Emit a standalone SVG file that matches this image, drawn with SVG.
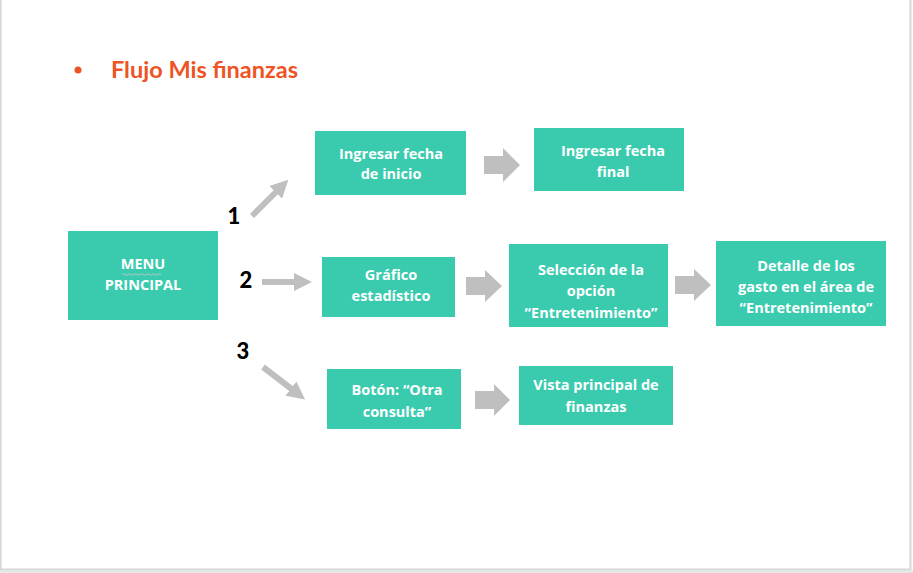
<svg xmlns="http://www.w3.org/2000/svg" width="913" height="573" viewBox="0 0 913 573">
<defs>
<style>
.box{fill:#3ACBAE}
.t{font-family:"Open Sans","Liberation Sans",sans-serif;font-weight:bold;font-size:14.5px;fill:#FFFFFF;text-anchor:middle}
.num{font-family:Lato,"Liberation Sans",sans-serif;font-weight:900;font-size:22px;fill:#000000;text-anchor:middle}
.title{font-family:Lato,"Liberation Sans",sans-serif;font-weight:bold;font-size:23.5px;fill:#EE5324}
.blk{fill:#BFBFBF}
.ln{stroke:#BFBFBF;stroke-width:6;fill:none}
</style>
<marker id="ah" viewBox="0 0 10 10" refX="5" refY="5" markerWidth="3" markerHeight="3" orient="auto" markerUnits="strokeWidth">
<path d="M0,0 L10,5 L0,10 Z" fill="#BFBFBF"/>
</marker>
</defs>
<rect x="0" y="0" width="913" height="573" fill="#FFFFFF"/>
<path d="M910.5,0 V569.5 H0.5 V0" fill="none" stroke="#D6D6D6" stroke-width="2"/>
<path d="M0,571.5 H913" stroke="#E6E6E6" stroke-width="3"/>

<g id="title">
<circle cx="78" cy="70" r="3.5" fill="#EE5324"/>
<text class="title" x="111" y="78">Flujo Mis finanzas</text>
</g>

<g id="connectors">
<line class="ln" x1="252" y1="216" x2="282" y2="186" marker-end="url(#ah)"/>
<line class="ln" x1="262" y1="282" x2="303" y2="282" marker-end="url(#ah)"/>
<line class="ln" x1="263" y1="367" x2="298" y2="394" marker-end="url(#ah)"/>
<polygon class="blk" points="484,156 503,156 503,148 520,165 503,182 503,174 484,174"/>
<polygon class="blk" points="466,277 485,277 485,270 502,286 485,302 485,295 466,295"/>
<polygon class="blk" points="675,276 694,276 694,269 711,285 694,301 694,294 675,294"/>
<polygon class="blk" points="475,391 494,391 494,384 510,400 494,416 494,409 475,409"/>
</g>

<g id="labels">
<text class="num" x="234" y="224">1</text>
<text class="num" x="246" y="288">2</text>
<text class="num" x="243" y="359">3</text>
</g>

<g id="menu">
<rect class="box" x="68" y="231" width="150" height="89"/>
<text class="t" x="143" y="269">MENU</text>
<path d="M122,274.5 q1.5,-1.5 3,0 t3,0 t3,0 t3,0 t3,0 t3,0 t3,0 t3,0 t3,0 t3,0 t3,0 t3,0 t3,0" fill="none" stroke="#B8C8C4" stroke-width="1"/>
<text class="t" x="143" y="290">PRINCIPAL</text>
</g>

<g id="fecha-inicio">
<rect class="box" x="315" y="131" width="151" height="64"/>
<text class="t" x="391" y="159">Ingresar fecha</text>
<text class="t" x="391" y="179">de inicio</text>
</g>

<g id="fecha-final">
<rect class="box" x="534" y="128" width="150" height="63"/>
<text class="t" x="613" y="156">Ingresar fecha</text>
<text class="t" x="613" y="177">final</text>
</g>

<g id="grafico">
<rect class="box" x="322" y="257" width="133" height="60"/>
<text class="t" x="391" y="280">Gráfico</text>
<text class="t" x="391" y="301">estadístico</text>
</g>

<g id="seleccion">
<rect class="box" x="509" y="244" width="159" height="83"/>
<text class="t" x="591" y="275">Selección de la</text>
<text class="t" x="591" y="296">opción</text>
<text class="t" x="591" y="318">“Entretenimiento”</text>
</g>

<g id="detalle">
<rect class="box" x="716" y="241" width="170" height="85"/>
<text class="t" x="806" y="271">Detalle de los</text>
<text class="t" x="806" y="292">gasto en el área de</text>
<text class="t" x="806" y="313">“Entretenimiento”</text>
</g>

<g id="boton">
<rect class="box" x="327" y="369" width="134" height="60"/>
<text class="t" x="397" y="395">Botón: “Otra</text>
<text class="t" x="397" y="417">consulta”</text>
</g>

<g id="vista">
<rect class="box" x="519" y="366" width="154" height="59"/>
<text class="t" x="596" y="390">Vista principal de</text>
<text class="t" x="596" y="412">finanzas</text>
</g>
</svg>
